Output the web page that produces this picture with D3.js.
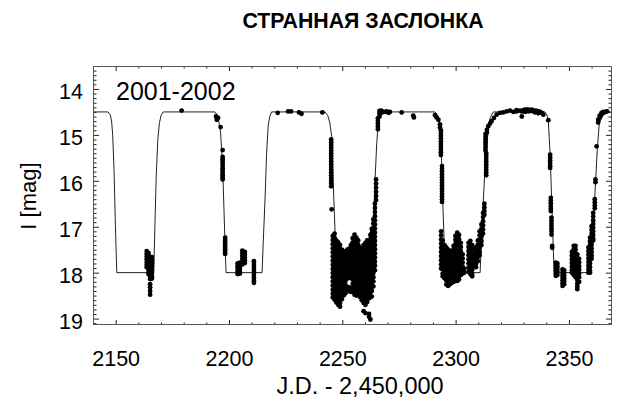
<!DOCTYPE html>
<html>
<head>
<meta charset="utf-8">
<script src="https://cdn.jsdelivr.net/npm/d3@7"></script>
<style>
  html, body { margin: 0; padding: 0; background: #fff; }
  svg { display: block; }
  text { font-family: "Liberation Sans", Arial, Helvetica, sans-serif; fill: #000; }
</style>
</head>
<body>
<svg id="chart" width="621" height="403"></svg>
<script>
// ---- Labels ----
const titleText = "СТРАННАЯ ЗАСЛОНКА";
const seasonLabel = "2001-2002";
const xTitle = "J.D. - 2,450,000";
const yTitle = "I [mag]";

// ---- Axis ticks ----
const xDomain = [2140, 2369];
const yDomain = [13.5, 19.14];
const xTickValues = [2150, 2200, 2250, 2300, 2350];
const yTickValues = [14, 15, 16, 17, 18, 19];

// ---- Eclipse model curve (JD - 2450000, I mag) ----
const modelJD = [
  2140.0, 2146.6, 2147.6, 2148.2, 2148.7, 2149.3, 2149.9, 2150.5,
  2166.8, 2167.3, 2167.9, 2168.6, 2169.3, 2170.0, 2171.0,
  2193.8, 2194.8, 2195.5, 2196.3, 2197.2, 2198.2, 2198.7,
  2214.6, 2215.1, 2215.9, 2216.6, 2217.3, 2218.0, 2218.8,
  2242.4, 2243.6, 2244.5, 2245.3, 2246.0, 2246.8, 2247.3,
  2262.9, 2263.7, 2264.4, 2265.2, 2265.9, 2266.9, 2268.0,
  2290.9, 2291.8, 2292.6, 2293.4, 2294.3, 2294.9, 2295.3,
  2310.8, 2311.5, 2313.0, 2314.4, 2315.3, 2316.6,
  2339.4, 2340.3, 2340.9, 2341.6, 2342.4, 2343.1, 2343.5,
  2359.3, 2360.0, 2361.5, 2362.5, 2363.4, 2365.2, 2366.7, 2369.0
];
const modelMag = [
  14.5, 14.5, 14.56, 14.7, 15.0, 15.8, 17.0, 18.0,
  18.0, 17.0, 15.9, 15.1, 14.75, 14.58, 14.5,
  14.5, 14.57, 14.7, 14.96, 15.68, 17.28, 18.0,
  18.0, 17.35, 16.41, 15.4, 14.8, 14.6, 14.5,
  14.5, 14.58, 14.74, 15.03, 16.04, 17.12, 18.0,
  18.0, 17.13, 16.04, 15.17, 14.74, 14.56, 14.5,
  14.5, 14.56, 14.66, 14.88, 16.41, 17.28, 18.0,
  18.0, 17.13, 15.68, 14.88, 14.62, 14.5,
  14.5, 14.57, 14.7, 15.32, 16.41, 17.49, 18.0,
  18.0, 17.42, 16.26, 15.32, 14.74, 14.56, 14.5, 14.5
];

// ---- Photometry: one entry per night, [JD - 2450000, [I mags]] ----
const obsNights = [
  // first eclipse
  [2163.7, [17.53, 17.59, 17.65, 17.71, 17.77, 17.83, 17.88]],
  [2164.5, [17.57, 17.63, 17.69, 17.75, 17.81, 17.87, 17.93, 17.99, 18.03]],
  [2165.2, [17.66, 17.73, 17.80, 17.87, 17.94, 18.01, 18.08, 18.14, 18.25, 18.32, 18.40, 18.48]],
  [2166.0, [17.66, 17.73, 17.80, 17.87, 17.94, 18.01, 18.08, 18.13]],
  // out of eclipse, second eclipse
  [2179.1, [14.47]],
  [2194.3, [14.60]],
  [2194.6, [14.67]],
  [2195.2, [14.63]],
  [2196.3, [14.83]],
  [2197.2, [15.33, 15.48, 15.53, 15.58, 15.63, 15.68, 15.73, 15.78, 15.83, 15.88, 15.93, 15.97]],
  [2198.3, [17.24, 17.29, 17.34, 17.39, 17.44, 17.49, 17.54, 17.59]],
  [2203.8, [17.80, 17.86, 17.92, 17.98, 18.03]],
  [2204.8, [17.78, 17.84, 17.90, 17.96, 18.02]],
  [2205.9, [17.52, 17.58, 17.64, 17.70, 17.76, 17.82]],
  [2207.0, [17.55, 17.61, 17.67, 17.73, 17.79]],
  [2211.0, [17.75, 17.81, 17.87, 17.93, 17.99, 18.05, 18.11, 18.17, 18.22]],
  // out of eclipse, third eclipse
  [2221.5, [14.52]],
  [2226.1, [14.49]],
  [2227.4, [14.49]],
  [2230.9, [14.51]],
  [2232.0, [14.54]],
  [2241.2, [14.51]],
  [2245.1, [15.10, 15.16, 15.22, 15.28, 15.34, 15.40, 15.46, 15.52, 15.58, 15.64, 15.70, 15.76, 15.82, 15.88, 15.94, 16.00, 16.06, 16.12]],
  [2245.3, [16.62]],
  [2245.8, [17.20, 17.29, 17.38, 17.47, 17.56, 17.65, 17.74, 17.83, 17.92, 18.01, 18.10, 18.19, 18.28, 18.37, 18.46, 18.54]],
  [2246.6, [17.15, 17.24, 17.33, 17.42, 17.51, 17.60, 17.69, 17.78, 17.87, 17.96, 18.05, 18.14, 18.23, 18.32, 18.41, 18.50, 18.59]],
  [2247.4, [17.30, 17.39, 17.48, 17.57, 17.66, 17.75, 17.84, 17.93, 18.02, 18.11, 18.20, 18.29, 18.38, 18.47, 18.56, 18.65]],
  [2248.2, [17.34, 17.43, 17.52, 17.61, 17.70, 17.79, 17.88, 17.97, 18.06, 18.15, 18.24, 18.33, 18.42, 18.51, 18.60, 18.70]],
  [2249.0, [17.40, 17.49, 17.58, 17.67, 17.76, 17.85, 17.94, 18.03, 18.12, 18.21, 18.30, 18.39, 18.48, 18.57, 18.66, 18.74]],
  [2249.8, [17.50, 17.59, 17.68, 17.77, 17.86, 17.95, 18.04, 18.13, 18.22, 18.31, 18.40, 18.49, 18.58]],
  [2250.6, [17.53, 17.62, 17.71, 17.80, 17.89, 17.98, 18.07, 18.16, 18.25, 18.34, 18.43, 18.50]],
  [2251.4, [17.55, 17.64, 17.73, 17.82, 17.91, 18.00, 18.09, 18.18, 18.27, 18.36, 18.45]],
  [2252.2, [17.50, 17.59, 17.68, 17.77, 17.86, 17.95, 18.04, 18.13, 18.31, 18.40]],
  [2253.0, [17.48, 17.57, 17.66, 17.75, 17.84, 17.93, 18.02, 18.11, 18.32, 18.40]],
  [2253.8, [17.40, 17.49, 17.58, 17.67, 17.76, 17.85, 17.94, 18.03, 18.12, 18.33, 18.42]],
  [2254.6, [17.25, 17.34, 17.43, 17.52, 17.61, 17.70, 17.79, 17.88, 17.97, 18.06, 18.15, 18.24, 18.33, 18.42]],
  [2255.4, [17.17, 17.26, 17.35, 17.44, 17.53, 17.62, 17.71, 17.80, 17.89, 17.98, 18.07, 18.16, 18.25, 18.34, 18.43, 18.48]],
  [2256.2, [17.24, 17.33, 17.42, 17.51, 17.60, 17.69, 17.78, 17.87, 17.96, 18.05, 18.14, 18.23, 18.32, 18.41, 18.50]],
  [2257.0, [17.30, 17.39, 17.48, 17.57, 17.66, 17.75, 17.84, 17.93, 18.02, 18.11, 18.20, 18.29, 18.38, 18.47]],
  [2257.8, [17.45, 17.54, 17.63, 17.72, 17.81, 17.90, 17.99, 18.08, 18.17, 18.26, 18.35, 18.44, 18.53]],
  [2258.6, [17.60, 17.69, 17.78, 17.87, 17.96, 18.05, 18.14, 18.23, 18.32, 18.41, 18.50, 18.60]],
  [2259.4, [17.40, 17.49, 17.58, 17.67, 17.76, 17.85, 17.94, 18.03, 18.12, 18.21, 18.30, 18.39, 18.48, 18.57, 18.66, 18.84]],
  [2260.2, [17.35, 17.44, 17.53, 17.62, 17.71, 17.80, 17.89, 17.98, 18.07, 18.16, 18.25, 18.34, 18.43, 18.52, 18.61, 18.70, 18.88]],
  [2261.0, [17.30, 17.39, 17.48, 17.57, 17.66, 17.75, 17.84, 17.93, 18.02, 18.11, 18.20, 18.29, 18.38, 18.47, 18.56, 18.64]],
  [2261.8, [17.30, 17.39, 17.48, 17.57, 17.66, 17.75, 17.84, 17.93, 18.02, 18.11, 18.20, 18.29, 18.38, 18.47, 18.56, 18.90, 18.96]],
  [2262.4, [17.18, 17.27, 17.36, 17.45, 17.54, 17.63, 17.72, 17.81, 17.90, 17.99, 18.08, 18.17, 18.26, 18.35, 18.44, 18.53, 19.02]],
  [2263.0, [17.05, 17.14, 17.23, 17.32, 17.41, 17.50, 17.59, 17.68, 17.77, 17.86, 17.95, 18.04, 18.13, 18.22, 18.31, 18.40, 18.52]],
  [2263.7, [16.84, 16.93, 17.02, 17.11, 17.20, 17.29, 17.38, 17.47, 17.56, 17.65, 17.74, 17.83, 17.92, 18.01, 18.10, 18.19, 18.30]],
  [2264.4, [16.50, 16.59, 16.68, 16.77, 16.86, 16.95, 17.04, 17.13, 17.22, 17.31, 17.40, 17.49, 17.58, 17.67, 17.76, 17.85, 17.95]],
  [2264.9, [15.97, 16.06, 16.15, 16.24, 16.33, 16.42]],
  // out of eclipse, fourth eclipse
  [2265.7, [14.64, 14.70, 14.76, 14.82, 14.88]],
  [2266.4, [14.48, 14.54, 14.60]],
  [2267.2, [14.47, 14.52]],
  [2268.0, [14.50]],
  [2268.9, [14.50]],
  [2269.6, [14.49]],
  [2270.4, [14.52]],
  [2271.0, [14.50]],
  [2276.2, [14.51]],
  [2281.3, [14.58]],
  [2281.6, [14.62]],
  [2290.9, [14.57]],
  [2291.6, [14.62]],
  [2292.4, [14.67]],
  [2293.1, [14.77, 14.84]],
  [2293.5, [14.90, 14.96, 15.02, 15.08, 15.14, 15.20, 15.26, 15.32, 15.38, 15.44]],
  [2294.0, [15.68, 15.74, 15.80, 15.86, 15.92, 15.98, 16.04, 16.10, 16.16, 16.22, 16.28, 16.34, 16.40, 16.46]],
  [2293.6, [17.10, 17.19, 17.28, 17.37, 17.46, 17.55, 17.64, 17.73, 17.82, 17.91]],
  [2294.3, [17.30, 17.39, 17.48, 17.57, 17.66, 17.75, 17.84, 17.93, 18.02, 18.08]],
  [2295.1, [17.40, 17.49, 17.58, 17.67, 17.76, 17.85, 17.94, 18.03, 18.12]],
  [2295.9, [17.45, 17.54, 17.63, 17.72, 17.81, 17.90, 17.99, 18.08, 18.17, 18.26]],
  [2296.7, [17.50, 17.59, 17.68, 17.77, 17.86, 17.95, 18.04, 18.13, 18.22, 18.29]],
  [2297.5, [17.55, 17.64, 17.73, 17.82, 17.91, 18.00, 18.09, 18.18, 18.25]],
  [2298.3, [17.52, 17.61, 17.70, 17.79, 17.88, 17.97, 18.06, 18.15, 18.22]],
  [2299.1, [17.42, 17.51, 17.60, 17.69, 17.78, 17.87, 17.96, 18.05, 18.14, 18.20]],
  [2299.9, [17.20, 17.29, 17.38, 17.47, 17.56, 17.65, 17.74, 17.83, 17.92, 18.01, 18.10, 18.18]],
  [2300.7, [17.13, 17.22, 17.31, 17.40, 17.49, 17.58, 17.67, 17.76, 17.85, 17.94, 18.03, 18.12, 18.18]],
  [2301.5, [17.18, 17.27, 17.36, 17.45, 17.54, 17.63, 17.72, 17.81, 17.90, 17.99, 18.08, 18.15]],
  [2302.3, [17.35, 17.44, 17.53, 17.62, 17.71, 17.80, 17.89, 17.98, 18.05]],
  [2303.1, [17.60, 17.69, 17.78, 17.87, 17.96, 18.02]],
  [2303.8, [17.92, 18.00]],
  [2305.7, [17.35, 17.44, 17.53, 17.62, 17.71, 17.80, 17.89, 17.98]],
  [2306.5, [17.31, 17.40, 17.49, 17.58, 17.67, 17.76, 17.85, 17.94, 18.03]],
  [2307.3, [17.40, 17.49, 17.58, 17.67, 17.76, 17.85, 17.94, 18.03, 18.08]],
  [2308.1, [17.60, 17.69, 17.78, 17.86]],
  [2309.0, [17.45, 17.54, 17.63, 17.72, 17.81, 17.88]],
  [2309.8, [17.30, 17.39, 17.48, 17.57, 17.66, 17.75]],
  [2310.6, [17.10, 17.19, 17.28, 17.37, 17.46, 17.55, 17.62]],
  [2311.4, [16.95, 17.04, 17.13, 17.22, 17.31, 17.40]],
  [2312.1, [16.70, 16.79, 16.88, 16.97, 17.06, 17.15]],
  [2312.7, [16.50, 16.58, 16.66, 16.74]],
  [2313.5, [15.40, 15.46, 15.52, 15.58, 15.64, 15.70, 15.76, 15.82, 15.88]],
  [2313.2, [14.98, 15.04, 15.10, 15.16, 15.22, 15.28, 15.34]],
  [2313.8, [14.89, 14.95]],
  [2314.4, [14.81]],
  [2315.2, [14.75]],
  [2315.9, [14.70]],
  [2316.9, [14.63]],
  [2318.1, [14.56]],
  [2319.6, [14.52]],
  [2321.0, [14.51]],
  [2322.5, [14.49]],
  [2324.0, [14.47]],
  [2325.5, [14.50]],
  [2326.9, [14.46, 14.49]],
  [2328.4, [14.47]],
  [2329.2, [14.49, 14.60]],
  [2330.0, [14.46]],
  [2330.6, [14.45, 14.50]],
  [2331.4, [14.45]],
  [2332.1, [14.45, 14.49]],
  [2332.9, [14.46]],
  [2333.6, [14.45, 14.48]],
  [2334.3, [14.47]],
  [2335.0, [14.47, 14.51]],
  [2335.8, [14.48]],
  [2336.5, [14.49, 14.53]],
  [2337.3, [14.50]],
  [2338.0, [14.52]],
  [2338.7, [14.56]],
  // fifth eclipse
  [2340.9, [14.68]],
  [2341.7, [15.43, 15.49, 15.55, 15.61, 15.67, 15.72]],
  [2342.0, [16.37, 16.43, 16.49, 16.55, 16.61, 16.66]],
  [2342.3, [16.80, 16.86, 16.92, 16.98, 17.04, 17.10, 17.17]],
  [2342.6, [17.42, 17.46]],
  [2344.2, [17.78, 17.84, 17.90, 17.96, 18.02, 18.07]],
  [2344.9, [17.80, 17.86, 17.92, 17.98, 18.05]],
  [2347.2, [17.93, 17.99, 18.05, 18.11, 18.17, 18.23, 18.29]],
  [2347.9, [17.95, 18.01, 18.07, 18.13, 18.19, 18.25]],
  [2351.3, [17.55, 17.63, 17.71, 17.79, 17.87, 17.95, 18.00]],
  [2352.1, [17.42, 17.50, 17.58, 17.66, 17.74, 17.82, 17.90, 17.98, 18.05]],
  [2352.9, [17.42, 17.50, 17.58, 17.66, 17.74, 17.82, 17.90, 17.98, 18.06, 18.10]],
  [2353.7, [17.60, 17.68, 17.76, 17.84, 17.92, 18.00, 18.08, 18.16, 18.24, 18.30, 18.36]],
  [2354.5, [17.70, 17.78, 17.86, 17.94, 18.02, 18.10, 18.20]],
  [2358.6, [17.45, 17.53, 17.61, 17.69, 17.77, 17.85, 17.93, 18.00]],
  [2359.3, [17.24, 17.32, 17.40, 17.48, 17.56, 17.64, 17.72, 17.80, 17.88, 17.96, 18.00]],
  [2360.0, [16.99, 17.07, 17.15, 17.23, 17.31, 17.39, 17.47, 17.55, 17.63, 17.70]],
  [2360.7, [16.70, 16.78, 16.86, 16.94, 17.02, 17.10, 17.18, 17.26, 17.30]],
  [2361.4, [16.40, 16.47, 16.54, 16.60]],
  [2361.7, [15.97, 16.03]],
  [2362.2, [15.25]],
  [2362.9, [14.67, 14.73]],
  [2363.6, [14.58, 14.62]],
  [2364.4, [14.52, 14.55]],
  [2365.2, [14.50, 14.52]],
  [2366.1, [14.50]],
  [2366.8, [14.49]]
];

// ---- Layout ----
const svg = d3.select("#chart");
const plot = { left: 93, right: 612, top: 66, bottom: 325 };

const x = d3.scaleLinear().domain(xDomain).range([plot.left, plot.right]);
const y = d3.scaleLinear().domain(yDomain).range([plot.top, plot.bottom]);

const xMinor = d3.range(2140, 2370, 10).filter(v => !xTickValues.includes(v) && v > xDomain[0]);
const yMinor = d3.range(135, 192, 1).map(v => v / 10).filter(v => !yTickValues.includes(v) && v > yDomain[0]);

svg.append("clipPath").attr("id", "frameClip")
  .append("rect")
  .attr("x", plot.left).attr("y", plot.top)
  .attr("width", plot.right - plot.left).attr("height", plot.bottom - plot.top);

// Title
svg.append("text")
  .attr("x", 363).attr("y", 28)
  .attr("text-anchor", "middle")
  .style("font-size", "21.3px").style("font-weight", "bold")
  .text(titleText);

// Model curve
const modelPts = modelJD.map((d, i) => [d, modelMag[i]]);
svg.append("path")
  .datum(modelPts)
  .attr("clip-path", "url(#frameClip)")
  .attr("fill", "none")
  .attr("stroke", "#222")
  .attr("stroke-width", 1)
  .attr("d", d3.line().x(d => x(d[0])).y(d => y(d[1])));

// Observations
const obs = obsNights.flatMap(([jd, mags]) => mags.map(m => ({ jd, mag: m })));
svg.append("g")
  .attr("clip-path", "url(#frameClip)")
  .selectAll("circle")
  .data(obs)
  .join("circle")
  .attr("cx", d => x(d.jd))
  .attr("cy", d => y(d.mag))
  .attr("r", 2.4)
  .attr("fill", "#000");

// Axes: ticks point inward on all four sides
function styleAxis(g) {
  g.select(".domain").remove();
  g.selectAll(".tick line").attr("stroke", "#222").attr("stroke-width", 1);
  g.selectAll(".tick text").style("font-size", "21.5px").attr("fill", "#000")
    .style("font-family", '"Liberation Sans", Arial, Helvetica, sans-serif');
}

svg.append("g").attr("transform", `translate(0,${plot.bottom})`)
  .call(d3.axisBottom(x).tickValues(xTickValues).tickFormat(d3.format("d")).tickSize(-5).tickPadding(26))
  .call(styleAxis);
svg.append("g").attr("transform", `translate(0,${plot.bottom})`)
  .call(d3.axisBottom(x).tickValues(xMinor).tickFormat("").tickSize(-2.5))
  .call(styleAxis);
svg.append("g").attr("transform", `translate(0,${plot.top})`)
  .call(d3.axisTop(x).tickValues(xTickValues).tickFormat("").tickSize(-5))
  .call(styleAxis);
svg.append("g").attr("transform", `translate(0,${plot.top})`)
  .call(d3.axisTop(x).tickValues(xMinor).tickFormat("").tickSize(-2.5))
  .call(styleAxis);

const yLeft = svg.append("g").attr("transform", `translate(${plot.left},0)`)
  .call(d3.axisLeft(y).tickValues(yTickValues).tickFormat(d3.format("d")).tickSize(-6).tickPadding(10))
  .call(styleAxis);
yLeft.selectAll(".tick text").attr("dy", "0.45em");
svg.append("g").attr("transform", `translate(${plot.left},0)`)
  .call(d3.axisLeft(y).tickValues(yMinor).tickFormat("").tickSize(-3.5))
  .call(styleAxis);
svg.append("g").attr("transform", `translate(${plot.right},0)`)
  .call(d3.axisRight(y).tickValues(yTickValues).tickFormat("").tickSize(-6))
  .call(styleAxis);
svg.append("g").attr("transform", `translate(${plot.right},0)`)
  .call(d3.axisRight(y).tickValues(yMinor).tickFormat("").tickSize(-3.5))
  .call(styleAxis);

// Frame
svg.append("rect")
  .attr("x", plot.left + 0.5).attr("y", plot.top + 0.5)
  .attr("width", plot.right - plot.left - 1).attr("height", plot.bottom - plot.top - 1)
  .attr("fill", "none").attr("stroke", "#555").attr("stroke-width", 1);

// Season label inside the frame
svg.append("text")
  .attr("x", 116).attr("y", 100)
  .style("font-size", "25px")
  .text(seasonLabel);

// Axis titles
svg.append("text")
  .attr("x", 360).attr("y", 394)
  .attr("text-anchor", "middle")
  .style("font-size", "23.5px")
  .text(xTitle);

svg.append("text")
  .attr("transform", "translate(36,196) rotate(-90)")
  .attr("text-anchor", "middle")
  .style("font-size", "22px")
  .text(yTitle);
</script>
</body>
</html>
